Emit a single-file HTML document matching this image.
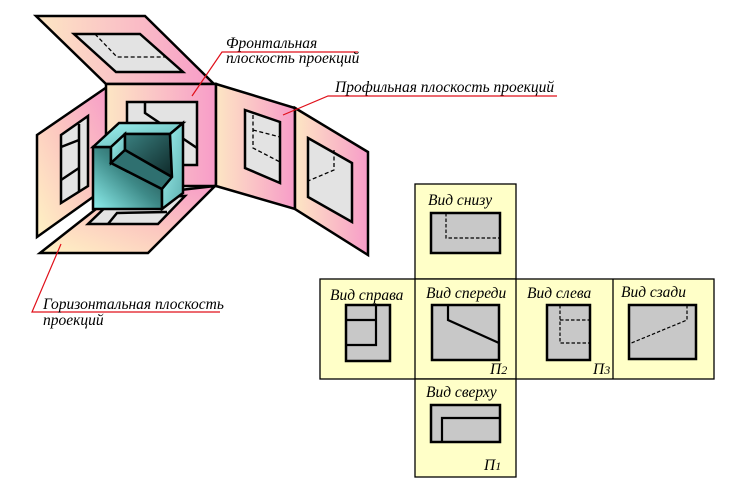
<!DOCTYPE html>
<html><head><meta charset="utf-8"><style>
html,body{margin:0;padding:0;background:#fff;width:729px;height:488px;overflow:hidden}
text{font-family:"Liberation Serif","DejaVu Serif",serif;font-style:italic;font-size:15.5px;fill:#000}
</style></head><body>
<svg width="729" height="488" viewBox="0 0 729 488" xmlns="http://www.w3.org/2000/svg">
<defs>
<linearGradient id="pk" x1="0" y1="1" x2="1" y2="0"><stop offset="0" stop-color="#fff3c4"/><stop offset="0.5" stop-color="#fcc8c0"/><stop offset="1" stop-color="#f79cc8"/></linearGradient>
<linearGradient id="pk2" x1="0" y1="0.5" x2="1" y2="0.5"><stop offset="0" stop-color="#fde6c4"/><stop offset="1" stop-color="#f79cc8"/></linearGradient>
<linearGradient id="tl" x1="0" y1="1" x2="1" y2="0"><stop offset="0" stop-color="#8ef0ee"/><stop offset="0.5" stop-color="#3e8a88"/><stop offset="1" stop-color="#173a3a"/></linearGradient>
<linearGradient id="tl2" x1="0" y1="0" x2="1" y2="1"><stop offset="0" stop-color="#3a8080"/><stop offset="1" stop-color="#0e2828"/></linearGradient>
<linearGradient id="tl3" x1="0" y1="0" x2="1" y2="1"><stop offset="0" stop-color="#9ff4f2"/><stop offset="1" stop-color="#5fb0b0"/></linearGradient>
</defs>
<g stroke="#000" stroke-width="2.5" stroke-linejoin="miter">
<polygon points="36,16 145,16 214,84 106,84" fill="url(#pk2)"/>
<polygon points="74,34 140,34 183,72 116,72" fill="#e3e3e3"/>
<polygon points="37,135 107,87 107,187 37,237" fill="url(#pk)"/>
<polygon points="61,135 88,116 88,186 61,203" fill="#e3e3e3"/>
<line x1="79" y1="124" x2="79" y2="191"/><line x1="61" y1="147" x2="79" y2="140"/><line x1="61" y1="180" x2="79" y2="168"/>
<polygon points="106,84 216,84 216,186 106,186" fill="url(#pk2)"/>
<polygon points="127,102 197,102 197,165 127,165" fill="#e3e3e3"/>
<polyline points="145,102 145,113 197,148" fill="none"/>
<polygon points="40,253 148,253 215,186 110,198" fill="url(#pk)"/>
<polygon points="88,224 158,224 185,196 115,198" fill="#e3e3e3"/>
<polyline points="108,224 117,213 167,212" fill="none"/>
<polygon points="216,84 295,108 295,209 216,186" fill="url(#pk2)"/>
<polygon points="245,110 280,122 280,183 245,168" fill="#e3e3e3"/>
<polygon points="295,108 368,152 368,255 295,209" fill="url(#pk2)"/>
<polygon points="308,138 352,163 352,222 308,197" fill="#e3e3e3"/>
<polygon points="93,147 111,147 111,163 162,189 162,209 93,209" fill="url(#tl)"/>
<polygon points="93,147 119,123 183,123 170,134 125,134 111,147" fill="url(#tl3)"/>
<polygon points="111,147 125,134 125,150 111,163" fill="url(#tl3)"/>
<polygon points="125,134 170,134 172,177 125,150" fill="url(#tl2)"/>
<polygon points="111,163 125,150 172,177 162,189" fill="#2f7070"/>
<polygon points="170,134 183,123 183,193 162,209 162,189 172,177" fill="url(#tl3)"/>
</g>
<g stroke="#000" stroke-width="1.3" stroke-dasharray="4,2.5" fill="none">
<polyline points="95,34 117,57 167,57"/>
<polyline points="253,115 253,148 280,162"/><line x1="253" y1="130" x2="280" y2="137"/>
<polyline points="334,150 334,170 308,181"/>
</g>
<g stroke="#e0101a" stroke-width="1.2" fill="none">
<polyline points="192,96 222,52 358,52"/>
<polyline points="283,115 328,96 557,96"/>
<polyline points="61,244 32,312 220,312"/>
</g>
<text x="226" y="48">Фронтальная</text>
<text x="226" y="63">плоскость проекций</text>
<text x="335" y="92">Профильная плоскость проекций</text>
<text x="43" y="309">Горизонтальная плоскость</text>
<text x="43" y="325">проекций</text>
<g stroke="#000" stroke-width="1.3" fill="#ffffc8">
<rect x="415" y="184" width="101" height="95"/>
<rect x="320" y="279" width="394" height="100"/>
<rect x="415" y="379" width="101" height="98"/>
</g>
<g stroke="#000" stroke-width="1.3"><line x1="415" y1="279" x2="415" y2="379"/><line x1="516" y1="279" x2="516" y2="379"/><line x1="613" y1="279" x2="613" y2="379"/></g>
<g stroke="#000" stroke-width="2.5" fill="#c8c8c8">
<rect x="431" y="213" width="69" height="40"/>
<rect x="346" y="305" width="44" height="56"/>
<rect x="432" y="305" width="67" height="55"/>
<rect x="547" y="305" width="43" height="55"/>
<rect x="629" y="305" width="67" height="54"/>
<rect x="431" y="405" width="69" height="37"/>
</g>
<g stroke="#000" stroke-width="2.2" fill="none">
<polyline points="376,305 376,345 346,345"/><line x1="346" y1="320" x2="376" y2="320"/>
<polyline points="448,305 448,320 499,343"/>
<polyline points="442,442 442,418 500,418"/>
</g>
<g stroke="#000" stroke-width="1.2" stroke-dasharray="3.5,2" fill="none">
<polyline points="446,213 446,238 500,238"/>
<polyline points="560,305 560,343 590,343"/><line x1="560" y1="320" x2="590" y2="320"/>
<polyline points="687,305 687,320 629,344"/>
</g>
<text x="428" y="205">Вид снизу</text>
<text x="330" y="300">Вид справа</text>
<text x="426" y="298">Вид спереди</text>
<text x="527" y="298">Вид слева</text>
<text x="621" y="297">Вид сзади</text>
<text x="426" y="397">Вид сверху</text>
<text x="490" y="374">П<tspan font-size="12">2</tspan></text>
<text x="593" y="374">П<tspan font-size="12">3</tspan></text>
<text x="484" y="470">П<tspan font-size="12">1</tspan></text>
</svg>
</body></html>
